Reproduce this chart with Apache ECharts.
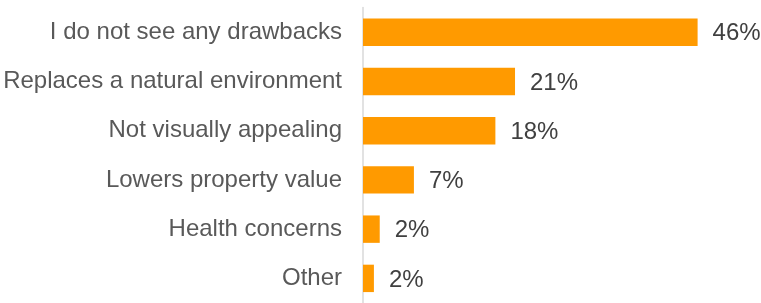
<!DOCTYPE html>
<html>
<head>
<meta charset="utf-8">
<script src="https://cdn.jsdelivr.net/npm/echarts@6/dist/echarts.min.js"></script>
<style>
html,body{margin:0;padding:0;background:#fff;}
#chart{width:761px;height:303px;}
</style>
</head>
<body>
<div id="chart"></div>
<script>
const categories = [
  "I do not see any drawbacks",
  "Replaces a natural environment",
  "Not visually appealing",
  "Lowers property value",
  "Health concerns",
  "Other"
];
const values = [46.0, 20.9, 18.2, 7.0, 2.3, 1.5];
const valueLabels = ["46%", "21%", "18%", "7%", "2%", "2%"];

const chart = echarts.init(document.getElementById('chart'), null, {renderer: 'canvas'});
chart.setOption({
  animation: false,
  grid: {left: 363, top: 7.6, width: 363.7, height: 299},
  xAxis: {type: 'value', min: 0, max: 50, show: false},
  yAxis: {
    type: 'category',
    data: categories,
    inverse: true,
    axisLine: {show: true, lineStyle: {color: '#D9D9D9', width: 1.5}},
    axisTick: {show: false},
    splitLine: {show: false},
    axisLabel: {
      color: '#595959',
      fontFamily: 'Liberation Sans, Arial, sans-serif',
      fontSize: 24,
      margin: 21
    }
  },
  series: [{
    type: 'bar',
    data: values,
    barWidth: 27.4,
    itemStyle: {color: '#FF9A00'},
    label: {
      show: true,
      position: 'right',
      distance: 15,
      offset: [0, 1.5],
      color: '#404040',
      fontFamily: 'Liberation Sans, Arial, sans-serif',
      fontSize: 24,
      formatter: p => valueLabels[p.dataIndex]
    }
  }]
});
</script>
</body>
</html>
